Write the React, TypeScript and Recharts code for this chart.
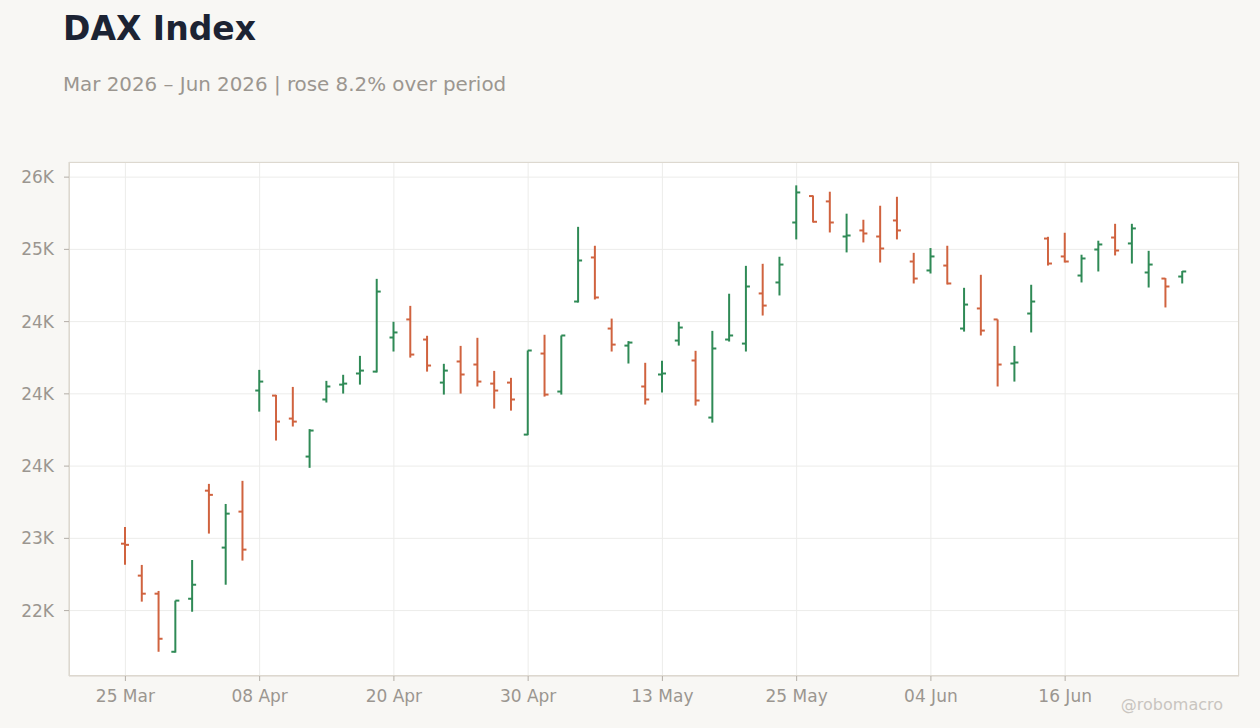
import { ComposedChart, Bar, XAxis, YAxis, CartesianGrid } from "recharts";

// trading days (Xetra), Mar–Jun 2026
const dates = [
    "25 Mar", "26 Mar", "27 Mar", "30 Mar", "31 Mar", "01 Apr", "02 Apr", "07 Apr",
    "08 Apr", "09 Apr", "10 Apr", "13 Apr", "14 Apr", "15 Apr", "16 Apr", "17 Apr",
    "20 Apr", "21 Apr", "22 Apr", "23 Apr", "24 Apr", "27 Apr", "28 Apr", "29 Apr",
    "30 Apr", "04 May", "05 May", "06 May", "07 May", "08 May", "11 May", "12 May",
    "13 May", "14 May", "15 May", "18 May", "19 May", "20 May", "21 May", "22 May",
    "25 May", "26 May", "27 May", "28 May", "29 May", "01 Jun", "02 Jun", "03 Jun",
    "04 Jun", "05 Jun", "08 Jun", "09 Jun", "10 Jun", "11 Jun", "12 Jun", "15 Jun",
    "16 Jun", "17 Jun", "18 Jun", "19 Jun", "22 Jun", "23 Jun", "24 Jun", "25 Jun",
];

const opens = [
    22963, 22742, 22617, 22215, 22582, 23330, 22936, 23185,
    24023, 23988, 23829, 23566, 23961, 24064, 24141, 24154,
    24390, 24515, 24376, 24078, 24224, 24203, 24071, 24078,
    23718, 24279, 24016, 24639, 24944, 24452, 24334, 24051,
    24134, 24369, 24231, 23836, 24376, 24348, 24695, 24771,
    25186, 25369, 25332, 25089, 25131, 25089, 25200, 24916,
    24854, 24888, 24452, 24591, 24515, 24210, 24556, 25075,
    24951, 24819, 24999, 25082, 25041, 24840, 24798, 24812,
];

const highs = [
    23079, 22816, 22636, 22569, 22850, 23377, 23238, 23398,
    24166, 23993, 24048, 23756, 24090, 24132, 24263, 24796,
    24499, 24609, 24402, 24208, 24332, 24388, 24159, 24111,
    24300, 24409, 24404, 25156, 25025, 24521, 24365, 24215,
    24229, 24499, 24298, 24436, 24693, 24886, 24900, 24949,
    25443, 25373, 25399, 25247, 25205, 25302, 25364, 24976,
    25009, 25025, 24734, 24824, 24515, 24332, 24755, 25087,
    25115, 24963, 25060, 25177, 25177, 24990, 24801, 24850,
];

const lows = [
    22818, 22562, 22215, 22209, 22492, 23033, 22679, 22846,
    23877, 23677, 23774, 23488, 23940, 24002, 24064, 24148,
    24293, 24251, 24154, 23995, 24002, 24051, 23898, 23884,
    23714, 23981, 23995, 24632, 24653, 24293, 24210, 23926,
    24009, 24334, 23919, 23801, 24362, 24293, 24542, 24681,
    25069, 25186, 25117, 24979, 25048, 24909, 25069, 24764,
    24833, 24757, 24431, 24404, 24051, 24085, 24425, 24888,
    24909, 24771, 24847, 24958, 24902, 24736, 24598, 24764,
];

const closes = [
    22955, 22617, 22305, 22569, 22679, 23301, 23171, 22922,
    24085, 23808, 23808, 23746, 24051, 24071, 24161, 24708,
    24425, 24272, 24196, 24161, 24134, 24085, 24023, 23961,
    24300, 23995, 24404, 24923, 24667, 24341, 24355, 23961,
    24141, 24459, 23954, 24314, 24404, 24743, 24611, 24895,
    25394, 25191, 25186, 25096, 25110, 25006, 25131, 24798,
    24951, 24764, 24618, 24438, 24203, 24217, 24639, 24902,
    24916, 24937, 25034, 24992, 25145, 24895, 24743, 24847,
];

const xTicks = ["25 Mar", "08 Apr", "20 Apr", "30 Apr", "13 May", "25 May", "04 Jun", "16 Jun"];
const yTicks = [22500, 23000, 23500, 24000, 24500, 25000, 25500];

const UP = "#2f8a56";
const DOWN = "#d0633f";
const MUTED = "#9b9690";

const data = dates.map((date, i) => ({
    date,
    open: opens[i],
    high: highs[i],
    low: lows[i],
    close: closes[i],
}));

const minLow = Math.min(...lows);
const maxHigh = Math.max(...highs);
const pad = (maxHigh - minLow) * 0.05;

// round-half-even, like the source's "{:.0f}K"
const formatK = (v: number) => {
    const k = v / 1000;
    const f = Math.floor(k);
    const d = k - f;
    const r = d > 0.5 ? f + 1 : d < 0.5 ? f : f % 2 === 0 ? f : f + 1;
    return `${r}K`;
};

const OhlcShape = (props: any) => {
    const { x, y, width, height, payload } = props;
    const top = Math.min(y, y + height);
    const h = Math.abs(height);
    const cx = x + width / 2;
    const span = payload.high - payload.low || 1;
    const yOf = (v: number) => top + ((payload.high - v) / span) * h;
    const color = payload.close >= payload.open ? UP : DOWN;
    return (
        <g>
            <line x1={cx} x2={cx} y1={top} y2={top + h} stroke={color} strokeWidth={2} />
            <line x1={cx - 4} x2={cx} y1={yOf(payload.open)} y2={yOf(payload.open)} stroke={color} strokeWidth={2} />
            <line x1={cx} x2={cx + 4} y1={yOf(payload.close)} y2={yOf(payload.close)} stroke={color} strokeWidth={2} />
        </g>
    );
};

export default function App() {
    return (
        <div
            style={{
                position: "relative",
                width: 1260,
                height: 728,
                background: "#f8f7f4",
                fontFamily: "'DejaVu Sans', sans-serif",
                overflow: "hidden",
            }}
        >
            <style>{"body{margin:0}"}</style>
            <div
                style={{
                    position: "absolute",
                    left: 63,
                    top: 12,
                    fontSize: 33,
                    lineHeight: 1,
                    fontWeight: 700,
                    color: "#1c2333",
                    whiteSpace: "nowrap",
                }}
            >
                DAX Index
            </div>
            <div
                style={{
                    position: "absolute",
                    left: 63,
                    top: 75,
                    fontSize: 19.85,
                    lineHeight: 1,
                    color: MUTED,
                    whiteSpace: "nowrap",
                }}
            >
                Mar 2026 – Jun 2026 | rose 8.2% over period
            </div>

            <div style={{ position: "absolute", left: 0, top: 0 }}>
                <ComposedChart
                    width={1260}
                    height={728}
                    data={data}
                    margin={{ top: 162, right: 21, bottom: 22, left: 0 }}
                >
                    <CartesianGrid stroke="#ececea" fill="#ffffff" />
                    <XAxis
                        dataKey="date"
                        ticks={xTicks}
                        interval={0}
                        height={30}
                        padding={{ left: 48, right: 48 }}
                        tick={{ fontSize: 17, fill: MUTED, fontFamily: "'DejaVu Sans'" }}
                        tickSize={5}
                        tickMargin={9}
                        tickLine={{ stroke: "#b3aea7" }}
                        axisLine={{ stroke: "#ddd8cf" }}
                    />
                    <YAxis
                        type="number"
                        width={69}
                        domain={[minLow - pad, maxHigh + pad]}
                        allowDataOverflow
                        ticks={yTicks}
                        tickFormatter={formatK}
                        tick={{ fontSize: 17, fill: MUTED, fontFamily: "'DejaVu Sans'" }}
                        tickSize={5}
                        tickMargin={10}
                        tickLine={{ stroke: "#b3aea7" }}
                        axisLine={{ stroke: "#ddd8cf" }}
                    />
                    <Bar
                        dataKey={(d: any) => [d.low, d.high]}
                        barSize={8}
                        shape={OhlcShape}
                        isAnimationActive={false}
                    />
                </ComposedChart>
            </div>

            {/* plot frame */}
            <div
                style={{
                    position: "absolute",
                    left: 69,
                    top: 162,
                    width: 1170,
                    height: 514,
                    boxSizing: "border-box",
                    border: "1px solid #ddd8cf",
                    pointerEvents: "none",
                }}
            />

            <div
                style={{
                    position: "absolute",
                    right: 37,
                    top: 697,
                    fontSize: 16,
                    lineHeight: 1,
                    color: "#c9c5c0",
                    whiteSpace: "nowrap",
                }}
            >
                @robomacro
            </div>
        </div>
    );
}
